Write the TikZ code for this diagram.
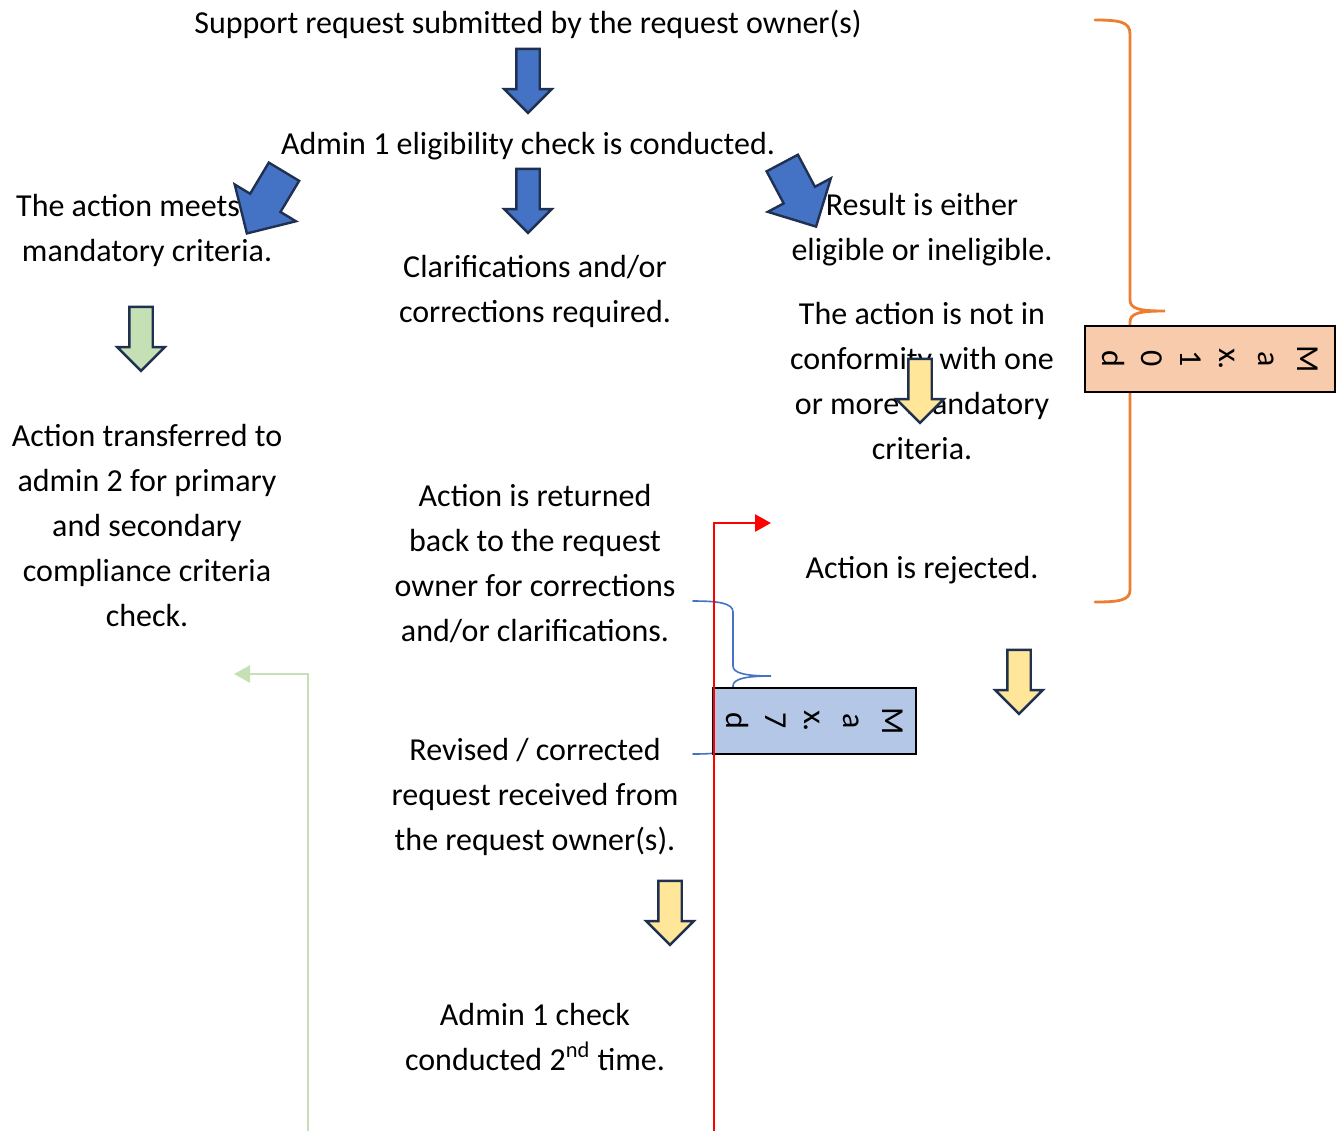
\documentclass[tikz,border=0pt]{standalone}
\usepackage{fontspec}
\setmainfont{Carlito}
\usetikzlibrary{positioning}
\usetikzlibrary{shapes.arrows}
\usetikzlibrary{arrows.meta}
\definecolor{arrowblue}{HTML}{4472C4}
\definecolor{arrowgreen}{HTML}{C5E0B4}
\definecolor{arrowyellow}{HTML}{FFE699}
\definecolor{outline}{HTML}{1F3050}
\definecolor{boxorange}{HTML}{F8CBAD}
\definecolor{boxblue}{HTML}{B4C7E7}
\definecolor{braceorange}{HTML}{ED7D31}
\definecolor{bracebl}{HTML}{4472C4}
\definecolor{linegreen}{HTML}{C5E0B4}
\tikzset{
    flowtext/.style = {align=center, inner sep=0pt, font=\fontsize{16}{22.5}\selectfont},
    blockarrow/.style = {single arrow, draw=outline, line width=1.2pt, inner xsep=0pt,
        inner ysep=5.25pt, minimum height=32pt, single arrow head extend=6pt},
    downarrow/.style = {blockarrow, rotate=-90, fill=#1},
    diagarrow/.style = {blockarrow, fill=arrowblue, rotate=#1,
        minimum height=36pt, inner ysep=8.25pt, single arrow head extend=9pt},
    maxbox/.style = {rectangle, draw, line width=0.8pt, rotate=-90, align=center,
        inner sep=0pt, minimum width=33pt, font=\fontsize{16}{19.5}\selectfont},
    brace/.style = {draw=#1, line cap=round},
    elbow/.style = {draw=#1, line width=1.3pt, -{Triangle[length=8pt,width=8.5pt]}}}

\begin{document}
\begin{tikzpicture}[x=0.5pt,y=-0.5pt]
        \useasboundingbox (0,0) rectangle (1336,1131);
        \node[flowtext] (support) at (528,24) {Support request submitted by the request owner(s)};
        \node[flowtext] (admin) at (528,146) {Admin 1 eligibility check is conducted.};
        \node[flowtext] (meets) at (147,230) {The action meets\hspace*{19pt}\\mandatory criteria.};
        \node[flowtext] (clarif) at (535,291) {Clarifications and/or\\corrections required.};
        \node[flowtext] (result) at (922,230) {Result is either\\eligible or ineligible.};
        \node[flowtext] (notconf) at (922,381) {The action is not in\\conformity with one\\or more mandatory\\criteria.};
        \node[flowtext] (transfer) at (147,525) {Action transferred to\\admin 2 for primary\\and secondary\\compliance criteria\\check.};
        \node[flowtext] (returned) at (535,564) {Action is returned\\back to the request\\owner for corrections\\and/or clarifications.};
        \node[flowtext] (rejected) at (922,570) {Action is rejected.};
        \node[flowtext] (revised) at (535,797) {Revised / corrected\\request received from\\the request owner(s).};
        \node[flowtext] (second) at (535,1037) {Admin 1 check\\conducted 2\textsuperscript{nd} time.};

        \node[downarrow=arrowblue] (arr1) at (528,75) {};
        \node[downarrow=arrowblue] (arr2) at (528,195) {};
        \node[diagarrow=-121] (arrleft) at (270,195) {};
        \node[diagarrow=-62] (arrright) at (795,187) {};
        \node[downarrow=arrowgreen] (arrgreen) at (141,333) {};
        \node[downarrow=arrowyellow] (arry1) at (920,385) {};
        \node[downarrow=arrowyellow] (arry2) at (1019,676) {};
        \node[downarrow=arrowyellow] (arry3) at (670,907) {};

        \draw[brace=braceorange, line width=1.4pt] (1095,20) .. controls (1120,20) and (1130,22) .. (1130,34)
            -- (1130,300) .. controls (1130,309) and (1140,311) .. (1165,311)
            .. controls (1140,311) and (1130,313) .. (1130,322) -- (1130,590)
            .. controls (1130,600) and (1120,602) .. (1095,602);
        \draw[brace=bracebl, line width=0.8pt] (693,601) .. controls (718,601) and (733,603) .. (733,612)
            -- (733,666) .. controls (733,673) and (745,676) .. (771,676)
            .. controls (745,676) and (733,679) .. (733,686) -- (733,744)
            .. controls (733,752) and (718,754) .. (693,754);

        \node[maxbox, fill=boxorange, minimum height=125pt] (max10) at (1210,359) {M\\a\\x.\\1\\0\\d};
        \node[maxbox, fill=boxblue, minimum height=101.5pt] (max7) at (814.5,721) {M\\a\\x.\\7\\d};

        \coordinate (redfoot) at (714,1131);
        \coordinate (redtip) at (771,523);
        \draw[elbow=red] (redfoot) |- (redtip);
        \coordinate (greenfoot) at (308,1131);
        \coordinate (greentip) at (234,674);
        \draw[elbow=linegreen] (greenfoot) |- (greentip);
\end{tikzpicture}
\end{document}
